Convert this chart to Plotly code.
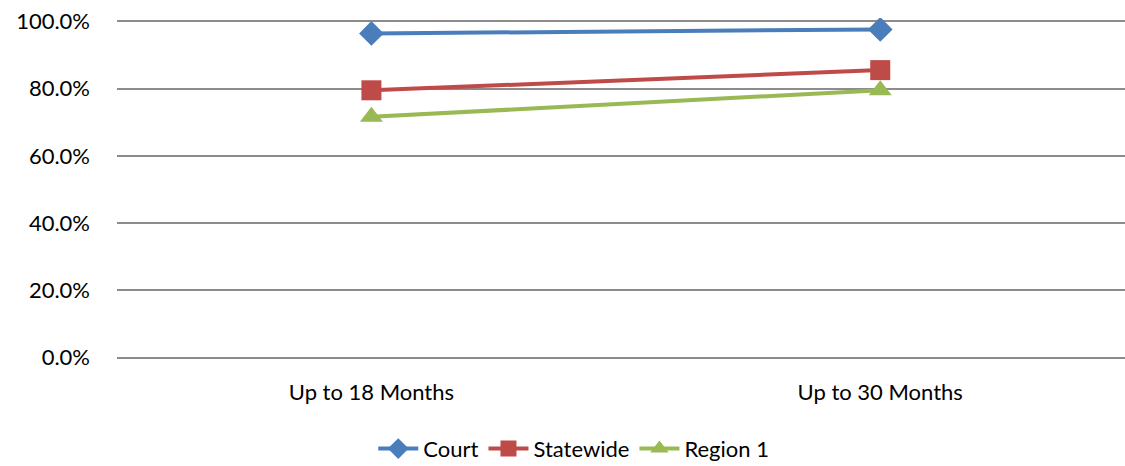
import plotly.graph_objects as go

categories = ["Up to 18 Months", "Up to 30 Months"]
court = [96.4, 97.6]
statewide = [79.5, 85.5]
region1 = [71.6, 79.5]
y_ticks = [0, 20, 40, 60, 80, 100]
y_tick_labels = ["0.0%", "20.0%", "40.0%", "60.0%", "80.0%", "100.0%"]

FONT = "Lato, 'Open Sans', sans-serif"

fig = go.Figure()
fig.add_trace(go.Scatter(x=categories, y=court, name="Court", mode="lines+markers",
                         line=dict(color="#4a7ebb", width=4),
                         marker=dict(symbol="diamond", size=19, color="#4a7ebb")))
fig.add_trace(go.Scatter(x=categories, y=statewide, name="Statewide", mode="lines+markers",
                         line=dict(color="#be4b48", width=4),
                         marker=dict(symbol="square", size=20, color="#be4b48")))
fig.add_trace(go.Scatter(x=categories, y=region1, name="Region 1", mode="lines+markers",
                         line=dict(color="#98b954", width=4),
                         marker=dict(symbol="triangle-up", size=20, color="#98b954")))

fig.update_layout(
    width=1125, height=466,
    margin=dict(l=117, r=0, t=18, b=105, autoexpand=False),
    paper_bgcolor="white", plot_bgcolor="white",
    font=dict(family=FONT, size=22, color="#000000"),
    showlegend=True,
    legend=dict(orientation="h", x=0.51, xref="container", xanchor="center",
                y=0.037, yref="container", yanchor="middle", font=dict(size=22),
                itemwidth=40, tracegroupgap=0),
)
fig.update_xaxes(type="category", range=[-0.5, 1.481], showgrid=False,
                 showline=False, ticks="", zeroline=False,
                 tickfont=dict(size=22), ticklabelstandoff=16)
fig.update_yaxes(range=[-1, 101], tickvals=y_ticks, ticktext=y_tick_labels,
                 showgrid=True, gridcolor="#8c8c8c", gridwidth=1.5,
                 zeroline=False, showline=False, ticks="",
                 tickfont=dict(size=22), ticklabelstandoff=26)

fig.write_html("out.html", config={"displayModeBar": False},
               post_script="document.body.style.margin='0';")
